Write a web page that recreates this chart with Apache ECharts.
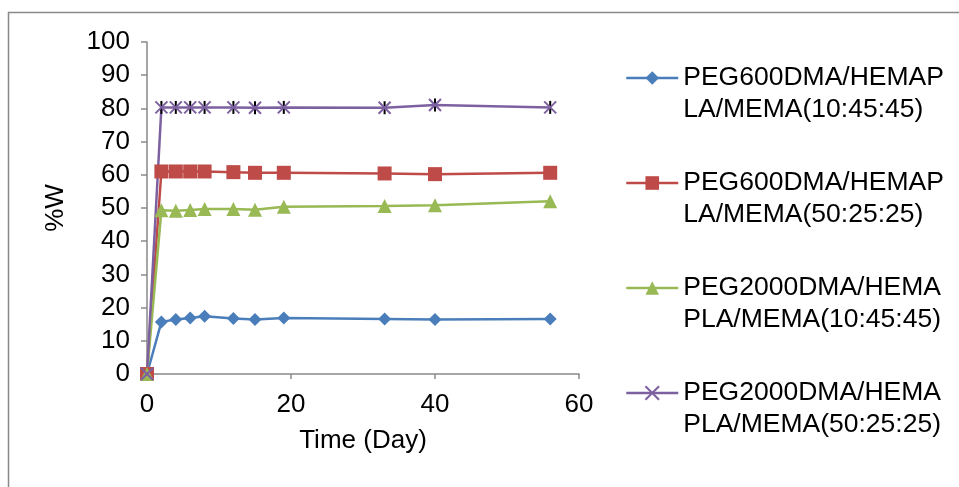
<!DOCTYPE html>
<html>
<head>
<meta charset="utf-8">
<title>%W over time</title>
<script src="https://cdn.jsdelivr.net/npm/echarts@6/dist/echarts.min.js"></script>
<style>
  html, body { margin: 0; padding: 0; background: #ffffff; }
  #chart { width: 959px; height: 487px; }
</style>
</head>
<body>
<div id="chart"></div>
<script>
// Sampling days (x axis)
const days = [0, 2, 4, 6, 8, 12, 15, 19, 33, 40, 56];

// %W per formulation
const peg600_10 = [0, 15.7, 16.4, 16.9, 17.4, 16.7, 16.4, 16.9, 16.6, 16.4, 16.6];
const peg600_50 = [0, 61.0, 61.0, 61.0, 61.0, 60.8, 60.6, 60.6, 60.4, 60.2, 60.6];
const peg2000_10 = [0, 49.3, 49.2, 49.4, 49.7, 49.7, 49.5, 50.4, 50.6, 50.8, 52.0];
const peg2000_50 = [0, 80.3, 80.3, 80.3, 80.3, 80.3, 80.2, 80.3, 80.2, 81.0, 80.3];

const seriesNames = [
  'PEG600DMA/HEMAPLA/MEMA(10:45:45)',
  'PEG600DMA/HEMAPLA/MEMA(50:25:25)',
  'PEG2000DMA/HEMAPLA/MEMA(10:45:45)',
  'PEG2000DMA/HEMAPLA/MEMA(50:25:25)'
];

// Axis ticks
const yTicks = { min: 0, max: 100, step: 10 };
const xTicks = { min: 0, max: 60, step: 20 };

const FONT = "'Liberation Sans', Arial, sans-serif";
const AXIS_GREY = '#898989';
const COLORS = ['#4a7ebb', '#be4b48', '#98b954', '#7d60a0'];
const CROSS = 'path://M0,0L10,10M10,0L0,10';

const pairs = vals => vals.map((v, i) => [days[i], v]);

function lineSeries(name, vals, color, symbol, size, extra) {
  return Object.assign({
    name: name,
    type: 'line',
    data: pairs(vals),
    symbol: symbol,
    symbolSize: size,
    lineStyle: { color: color, width: 2.5 },
    itemStyle: { color: color },
    emphasis: { disabled: true },
    z: 3
  }, extra || {});
}

const chart = echarts.init(document.getElementById('chart'), null, { renderer: 'canvas' });

chart.setOption({
  animation: false,
  backgroundColor: '#ffffff',
  graphic: [{
    type: 'polyline',
    shape: { points: [[8.5, 487], [8.5, 12.5], [959, 12.5]] },
    style: { stroke: AXIS_GREY, lineWidth: 1.5, fill: null },
    silent: true
  }],
  grid: { left: 147, right: 380, top: 42, bottom: 113, containLabel: false },
  legend: {
    data: seriesNames,
    orient: 'vertical',
    left: 625,
    top: 30,
    padding: 0,
    itemGap: 9,
    itemWidth: 52,
    itemHeight: 17,
    selectedMode: false,
    lineStyle: { width: 2.5 },
    formatter: name => '\n' + name.slice(0, 15) + '\n' + name.slice(15),
    textStyle: { fontFamily: FONT, fontSize: 26.5, lineHeight: 32, color: '#000000' }
  },
  xAxis: {
    type: 'value',
    min: xTicks.min,
    max: xTicks.max,
    interval: xTicks.step,
    name: 'Time (Day)',
    nameLocation: 'middle',
    nameGap: 54,
    nameTextStyle: { fontFamily: FONT, fontSize: 26, color: '#000000' },
    axisLine: { show: true, lineStyle: { color: AXIS_GREY, width: 1.5 } },
    axisTick: { show: true, inside: false, length: 5, lineStyle: { color: AXIS_GREY, width: 1.5 } },
    axisLabel: { fontFamily: FONT, fontSize: 26, color: '#000000', margin: 18 },
    splitLine: { show: false }
  },
  yAxis: {
    type: 'value',
    min: yTicks.min,
    max: yTicks.max,
    interval: yTicks.step,
    name: '%W',
    nameLocation: 'middle',
    nameRotate: 90,
    nameGap: 78,
    nameTextStyle: { fontFamily: FONT, fontSize: 26, color: '#000000' },
    axisLine: { show: true, lineStyle: { color: AXIS_GREY, width: 1.5 } },
    axisTick: { show: true, inside: false, length: 6, lineStyle: { color: AXIS_GREY, width: 1.5 } },
    axisLabel: { fontFamily: FONT, fontSize: 26, color: '#000000', margin: 17 },
    splitLine: { show: false }
  },
  series: [
    lineSeries(seriesNames[0], peg600_10, COLORS[0], 'diamond', 13),
    lineSeries(seriesNames[1], peg600_50, COLORS[1], 'rect', 14),
    lineSeries(seriesNames[2], peg2000_10, COLORS[2], 'triangle', 14),
    {
      // black centre stroke of the star markers
      id: 'star-stems',
      type: 'line',
      data: peg2000_50.map((v, i) => days[i] === 0 ? '-' : [days[i], v]),
      symbol: 'rect',
      symbolSize: [2, 13],
      showAllSymbol: true,
      lineStyle: { opacity: 0, width: 0 },
      itemStyle: { color: '#000000' },
      emphasis: { disabled: true },
      silent: true,
      z: 3
    },
    lineSeries(seriesNames[3], peg2000_50, COLORS[3], CROSS, 12, {
      itemStyle: { color: COLORS[3], borderColor: COLORS[3], borderWidth: 2 },
      symbolKeepAspect: true
    })
  ]
});
</script>
</body>
</html>
